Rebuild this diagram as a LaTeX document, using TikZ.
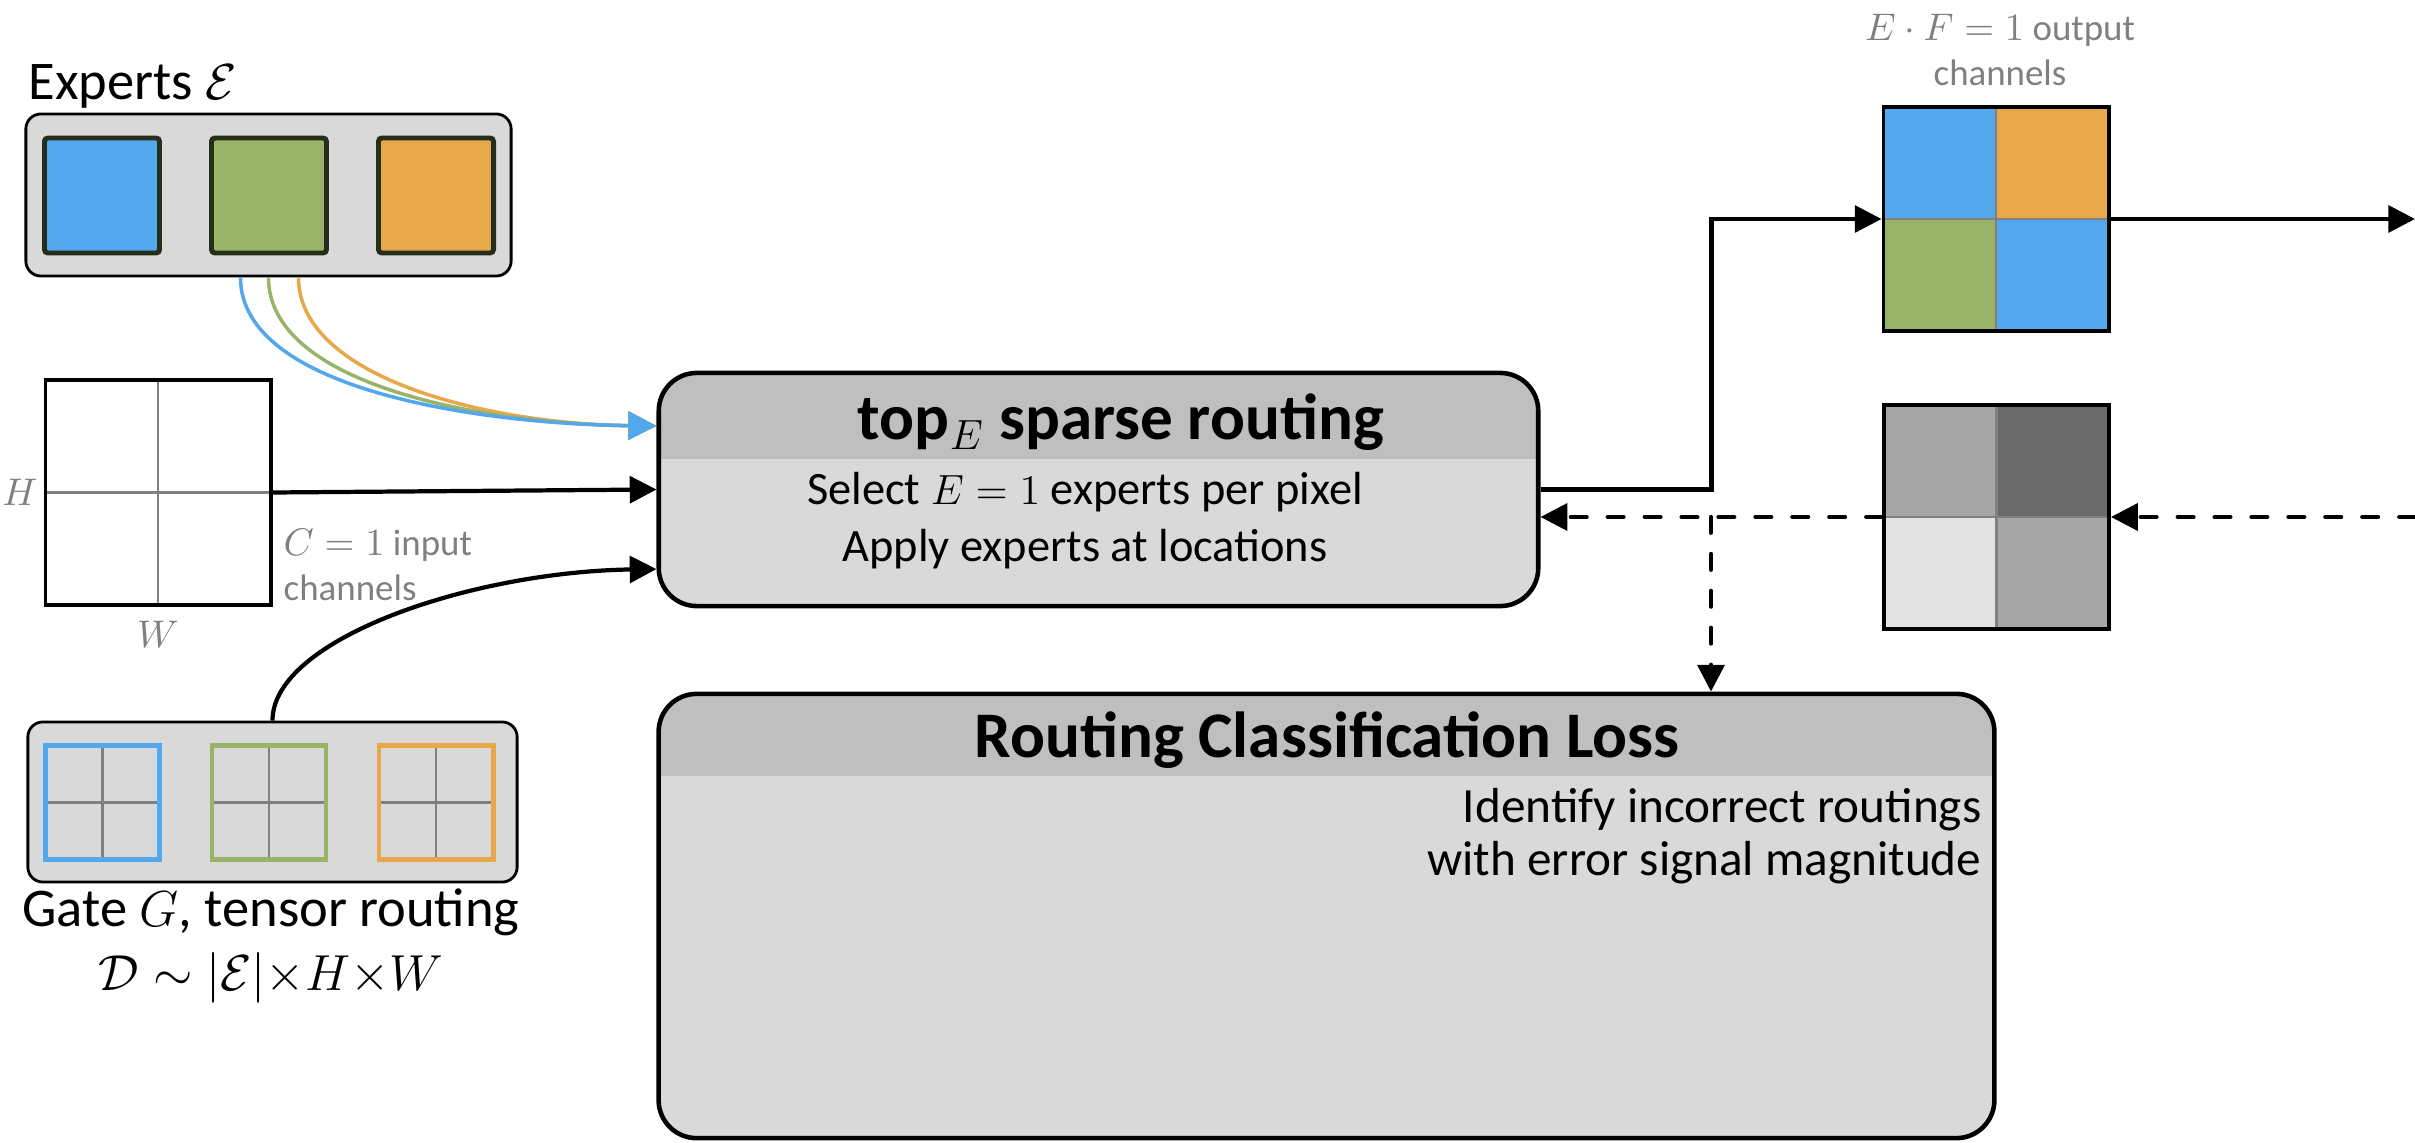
\documentclass[tikz,border=0pt]{standalone}
\usepackage{fontspec}
\setmainfont{Carlito}
\usetikzlibrary{arrows.meta}

\definecolor{xblue}{HTML}{53A7EC}
\definecolor{xgreen}{HTML}{98B468}
\definecolor{xorange}{HTML}{E8A84A}
\definecolor{xdark}{HTML}{262D1A}
\definecolor{hdrgray}{HTML}{BFBFBF}
\definecolor{boxgray}{HTML}{D9D9D9}
\definecolor{midgray}{HTML}{808080}
\definecolor{errA}{HTML}{A6A6A6}
\definecolor{errB}{HTML}{6B6B6B}
\definecolor{errC}{HTML}{E3E3E3}

\begin{document}
\begin{tikzpicture}[
				x=0.01cm, y=-0.01cm,
				holder/.style={rectangle, draw, fill=boxgray, line width=0.8pt, rounded corners=0.15cm, inner sep=0pt},
				expert/.style={rectangle, draw=xdark, line width=1.4pt, rounded corners=1pt, minimum size=1.15cm, inner sep=0pt},
				cells/.style n args={4}{path picture={
					\fill[#1, sharp corners] (path picture bounding box.center) rectangle (path picture bounding box.north west);
					\fill[#2, sharp corners] (path picture bounding box.center) rectangle (path picture bounding box.north east);
					\fill[#3, sharp corners] (path picture bounding box.center) rectangle (path picture bounding box.south west);
					\fill[#4, sharp corners] (path picture bounding box.center) rectangle (path picture bounding box.south east);
					\draw[midgray, line width=0.6pt] (path picture bounding box.north) -- (path picture bounding box.south)
						(path picture bounding box.west) -- (path picture bounding box.east);}},
				grid/.style={rectangle, draw, line width=1.1pt, minimum width=2.25cm, minimum height=2.24cm, inner sep=0pt},
				gsq/.style={rectangle, line width=1.4pt, minimum size=1.14cm, inner sep=0pt,
					cells={boxgray}{boxgray}{boxgray}{boxgray}},
				stage/.style={rectangle, draw, fill=boxgray, line width=1.3pt, rounded corners=0.38cm, inner sep=0pt,
					path picture={\fill[hdrgray, sharp corners] (path picture bounding box.north west)
						rectangle ([yshift=-#1]path picture bounding box.north east);}},
				big/.style={inner sep=0pt, font=\fontsize{15.5}{18}\selectfont},
				ttl/.style={inner sep=0pt, font=\bfseries\fontsize{18.5}{22}\selectfont},
				body/.style={inner sep=0pt, align=center, font=\fontsize{13.2}{16.2}\selectfont},
				note/.style={inner sep=0pt, text=midgray, font=\fontsize{10.5}{12.8}\selectfont},
				wire/.style={line width=1.2pt, -{Triangle[length=7.6pt, width=7.6pt]}},
				cwire/.style={line width=1pt, -{Triangle[length=8pt, width=8pt]}},
				fb/.style={dash pattern=on 4.5pt off 6pt, line cap=round},
			]
			\useasboundingbox (0,0) rectangle (2415,1143);

			% expert bank
			\node[holder, minimum width=4.85cm, minimum height=1.62cm] (experts) at (268.5,195) {};
			\node[expert, fill=xblue]   (e1) at (102,195.5) {};
			\node[expert, fill=xgreen]  (e2) at (269,195.5) {};
			\node[expert, fill=xorange] (e3) at (436,195.5) {};
			\node[big, anchor=base west] (explbl) at (28,100) {Experts $\mathcal{E}$};

			% input tensor
			\node[grid, cells={white}{white}{white}{white}] (inp) at (158,492.5) {};
			\node[note, left=1.5pt] (hlbl) at (inp.west)  {$H$};
			\node[note, below=4pt]  (wlbl) at (inp.south) {$W$};
			\node[note, anchor=west, align=left] (inlbl) at (283,565) {$C=1$ input\\channels};

			% gate
			\node[holder, minimum width=4.89cm, minimum height=1.60cm] (gate) at (272.5,802) {};
			\node[gsq, draw=xblue]   (g1) at (102.5,802.5) {};
			\node[gsq, draw=xgreen]  (g2) at (269,802.5) {};
			\node[gsq, draw=xorange] (g3) at (436,802.5) {};
			\node[big, align=center] (gatelbl) at (271,946)
				{Gate $G$, tensor routing\\$\mathcal{D}\sim|\mathcal{E}|{\times}H{\times}W$};

			% routing block
			\node[stage=0.86cm, minimum width=8.79cm, minimum height=2.33cm] (route) at (1098.5,489.5) {};
			\node[ttl, anchor=base] (routeT) at (1121,440) {top$_{E}$ sparse routing};
			\node[body] (routeB) at (1085,521) {Select $E=1$ experts per pixel\\Apply experts at locations};

			% loss block
			\node[stage=0.82cm, minimum width=13.35cm, minimum height=4.44cm] (loss) at (1326.5,916) {};
			\node[ttl, anchor=base] (lossT) at (1327,757) {Routing Classification Loss};
			\node[body, anchor=east, align=right, font=\fontsize{14}{15.1}\selectfont] (lossB) at (1982,836)
				{Identify incorrect routings\\with error signal magnitude};

			% output and error maps
			\node[grid, cells={xblue}{xorange}{xgreen}{xblue}] (outg) at (1996,219) {};
			\node[note, align=center] (outlbl) at (2000,50) {$E\cdot F=1$ output\\channels};
			\node[grid, cells={errA}{errB}{errC}{errA}] (errg) at (1996.5,517) {};
			\coordinate (outR)  at (2415,219);
			\coordinate (errR)  at (2415,517);
			\coordinate (split) at (1711,517);

			% experts -> routing
			\draw[cwire, xorange] ([xshift=0.30cm]experts.south) .. controls +(0,100) and +(-170,-2) .. ([yshift=0.635cm]route.west);
			\draw[cwire, xgreen]  ([xshift=0.00cm]experts.south) .. controls +(0,108) and +(-172,-2) .. ([yshift=0.635cm]route.west);
			\draw[cwire, xblue]   ([xshift=-0.28cm]experts.south) .. controls +(0,113) and +(-175,-2) .. ([yshift=0.635cm]route.west);

			% input and gate -> routing
			\draw[wire] (inp.east) -- (route.west);
			\draw[wire] (gate.north) .. controls +(0,-81) and +(-187,3) .. ([yshift=-0.795cm]route.west);

			% routing -> output
			\draw[wire] (route.east) -- ++(171,0) |- (outg.west);
			\draw[wire] (outg.east) -- (outR);

			% error signal back
			\draw[wire, fb] (errR) -- (errg.east);
			\draw[wire, fb] (errg.west) -- (route.east |- errg.west);
			\draw[wire, fb] (split) -- (split |- loss.north);
		\end{tikzpicture}
\end{document}
